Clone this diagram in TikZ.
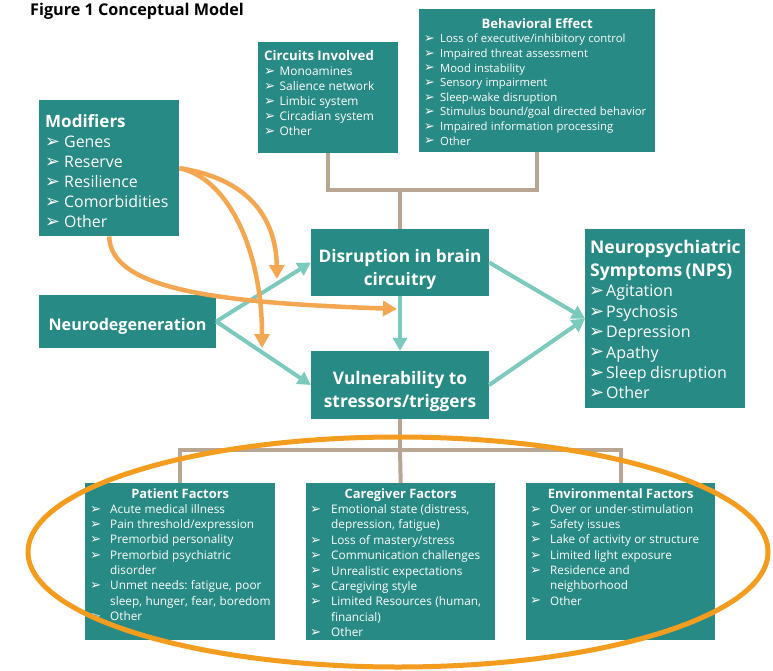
\documentclass[tikz,border=0pt]{standalone}
\usepackage{fontspec}
\usepackage{graphicx}
\setmainfont{Open Sans}
\newfontfamily\dejavu{DejaVu Sans}
\usetikzlibrary{arrows.meta,calc}
\frenchspacing
\definecolor{teal0}{RGB}{40,138,132}
\definecolor{lteal}{RGB}{124,201,190}
\definecolor{orarr}{RGB}{245,166,80}
\definecolor{oell}{RGB}{243,156,30}
\definecolor{tanl}{RGB}{183,166,146}
\newcommand\fs[2]{\fontsize{#1}{#2}\selectfont}
\newcommand\bul{\raisebox{0.01em}{\scalebox{1.12}{\dejavu ➢}}}
\newcommand\itm[2]{\par\noindent\hangindent=#1\hangafter=1\makebox[#1][l]{\bul}#2}
\newcommand\ctitle[2]{\noindent\makebox[#1]{\bfseries #2}\par}
\tikzset{
  box/.style={fill=teal0, draw=none, inner sep=0pt, anchor=north west},
  cbox/.style={fill=teal0, draw=none, inner sep=0pt, text=white, align=center, anchor=center},
  txt/.style={text=white, inner sep=0pt, anchor=north west, align=left},
  tanline/.style={draw=tanl, line width=4pt},
  tarr/.style={draw=lteal, line width=4pt, -{Triangle[length=13pt,width=14pt]}},
  oarr/.style={draw=orarr, line width=4.5pt, -{Triangle[length=14pt,width=15pt]}},
  ell/.style={draw=oell, line width=5pt}
}
\begin{document}
\begin{tikzpicture}[x=1pt,y=1pt]
\useasboundingbox (0,0) rectangle (773,-671);
\node[anchor=north west, inner sep=0pt] (title) at (30,-3) {\fs{16.2}{18}\bfseries Figure 1 Conceptual Model};

% top boxes
\node[box, minimum width=140pt, minimum height=111pt] (circ) at (258,-42) {};
\node[txt, text width=170pt] (circT) at (264,-50) {\fs{13.2}{15.5}\textbf{Circuits Involved}\par
  \fs{11.9}{15}\itm{15.5pt}{Monoamines}\itm{15.5pt}{Salience network}\itm{15.5pt}{Limbic system}\itm{15.5pt}{Circadian system}\itm{15.5pt}{Other}\par};

\node[box, minimum width=236pt, minimum height=143pt] (beh) at (419,-9) {};
\node[txt, text width=280pt] (behT) at (424,-18) {\fs{13.1}{15.5}\ctitle{226pt}{Behavioral Effect}
  \fs{11.3}{14.6}\itm{16pt}{Loss of executive/inhibitory control}\itm{16pt}{Impaired threat assessment}\itm{16pt}{Mood instability}\itm{16pt}{Sensory impairment}\itm{16pt}{Sleep-wake disruption}\itm{16pt}{Stimulus bound/goal directed behavior}\itm{16pt}{Impaired information processing}\itm{16pt}{Other}\par};

% modifiers
\node[box, minimum width=140pt, minimum height=136pt] (mod) at (39,-100) {};
\node[txt, text width=170pt] (modT) at (45,-114) {\fs{17}{21}\textbf{Modifiers}\par
  \fs{15.9}{20}\itm{19pt}{Genes}\itm{19pt}{Reserve}\itm{19pt}{Resilience}\itm{19pt}{Comorbidities}\itm{19pt}{Other}\par};

% middle boxes
\node[cbox, minimum width=177pt, minimum height=53pt, font=\fs{16.1}{18}\bfseries] (neu) at (127.5,-321.5) {\rule{0pt}{21pt}Neurodegeneration};
\node[cbox, minimum width=178pt, minimum height=67pt, font=\fs{17.3}{23}\bfseries] (dis) at (400,-262.5) {\rule{0pt}{27pt}Disruption in brain\\circuitry};
\node[cbox, minimum width=178pt, minimum height=68pt, font=\fs{17.3}{23}\bfseries] (vul) at (400,-385) {\rule{0pt}{27pt}Vulnerability to\\stressors/triggers};

% NPS
\node[box, minimum width=160pt, minimum height=179pt] (nps) at (585,-229) {};
\node[txt, text width=190pt] (npsT) at (589,-240) {\fs{17.5}{23}\bfseries \hspace*{1pt}Neuropsychiatric\\\hspace*{1pt}Symptoms (NPS)\par
  \mdseries\fs{16}{20.4}\itm{17pt}{Agitation}\itm{17pt}{Psychosis}\itm{17pt}{Depression}\itm{17pt}{Apathy}\itm{17pt}{Sleep disruption}\itm{17pt}{Other}\par};

% bottom boxes
\node[box, minimum width=190pt, minimum height=157pt] (pat) at (85,-483) {};
\node[txt, text width=230pt] (patT) at (90,-488) {\fs{12.9}{16.5}\ctitle{180pt}{Patient Factors}
  \fs{11.8}{15.3}\itm{20pt}{Acute medical illness}\itm{20pt}{Pain threshold/expression}\itm{20pt}{Premorbid personality}\itm{20pt}{Premorbid psychiatric\newline disorder}\itm{20pt}{Unmet needs: fatigue, poor\newline sleep, hunger, fear, boredom}\itm{20pt}{Other}\par};

\node[box, minimum width=189pt, minimum height=157pt] (car) at (306,-483) {};
\node[txt, text width=230pt] (carT) at (310,-488) {\fs{12.9}{16.5}\ctitle{181pt}{Caregiver Factors}
  \fs{11.8}{15.4}\itm{21pt}{Emotional state (distress,\newline depression, fatigue)}\itm{21pt}{Loss of mastery/stress}\itm{21pt}{Communication challenges}\itm{21pt}{Unrealistic expectations}\itm{21pt}{Caregiving style}\itm{21pt}{Limited Resources (human,\newline financial)}\itm{21pt}{Other}\par};

\node[box, minimum width=189pt, minimum height=157pt] (env) at (526,-483) {};
\node[txt, text width=230pt] (envT) at (530,-488) {\fs{12.9}{16.5}\ctitle{181pt}{Environmental Factors}
  \fs{11.7}{15.3}\itm{20pt}{Over or under-stimulation}\itm{20pt}{Safety issues}\itm{20pt}{Lake of activity or structure}\itm{20pt}{Limited light exposure}\itm{20pt}{Residence and\newline neighborhood}\itm{20pt}{Other}\par};

% tan connectors
\coordinate (j1) at (400,-190);
\coordinate (j2) at (400,-450);
\draw[tanline] (circ.south) -- (circ.south |- j1) -- (beh.south |- j1) -- (beh.south);
\draw[tanline] (j1) -- (dis.north);
\draw[tanline] (vul.south) -- (j2);
\draw[tanline] (pat.north) -- (pat.north |- j2) -- (env.north |- j2) -- (env.north);
\draw[tanline] (j2) -- (car.north);

% teal arrows
\draw[tarr] (neu.east) -- (dis.west);
\draw[tarr] (neu.east) -- (vul.west);
\draw[tarr] (dis.south) -- (vul.north);
\draw[tarr] (dis.east) -- (nps.west);
\draw[tarr] (vul.east) -- (nps.west);

% orange arrows
\coordinate (oa) at (277,-279);
\coordinate (ob) at (262,-348);
\coordinate (oc) at (397,-309);
\draw[oarr] (mod.east) .. controls (245,-178) and (276,-215) .. (oa);
\draw[oarr] (mod.east) .. controls (228,-178) and (262,-250) .. (ob);
\draw[oarr] (mod.south) .. controls (110,-292) and (230,-303) .. (oc);

% ellipse
\draw[ell] (398,-552) ellipse [x radius=370, y radius=115];
\end{tikzpicture}
\end{document}
